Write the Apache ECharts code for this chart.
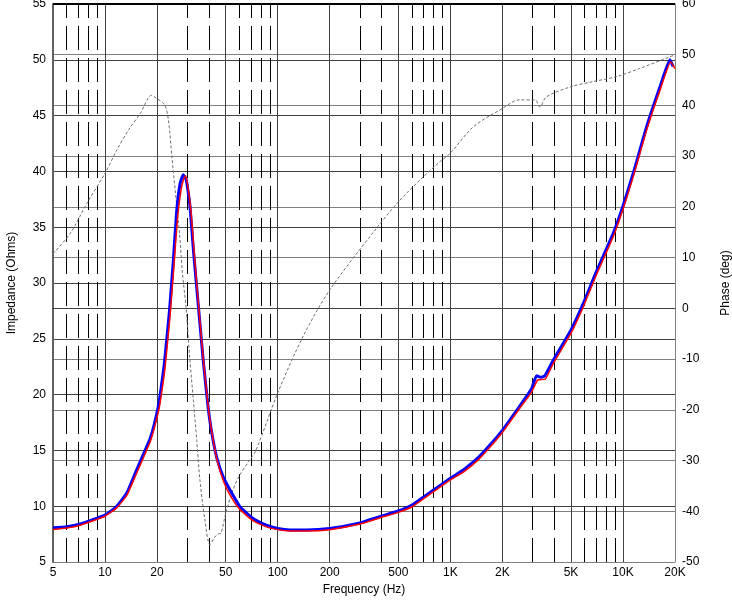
<!DOCTYPE html>
<html>
<head>
<meta charset="utf-8">
<script src="https://cdn.jsdelivr.net/npm/echarts@6/dist/echarts.min.js"></script>
<style>
html,body{margin:0;padding:0;background:#fff;}
#chart{width:732px;height:601px;}
</style>
</head>
<body>
<div id="chart"></div>
<script>
// ---- data ----
const tickFreqs = [5,10,20,50,100,200,500,1000,2000,5000,10000,20000];
const tickLabels = ['5','10','20','50','100','200','500','1K','2K','5K','10K','20K'];
const solidFreqs = [10,20,50,100,200,500,1000,2000,5000,10000];
const dashedFreqs = [6,7,8,9,30,40,60,70,80,90,300,400,600,700,800,900,3000,4000,6000,7000,8000,9000];

const blueFreq = [5,6,7.2,8.9,10,11.7,13.4,15.1,17.4,18.2,19.2,20.4,21.1,22,22.8,23.6,24.9,26,27.2,28.4,29.5,30.3,31.1,32.5,34.7,37.1,39.6,41.5,44.3,48.4,53,60.5,72,86,100,118,147,200,300,390,500,600,800,1000,1200,1450,1700,2000,2530,2950,3160,3350,3530,3950,5000,5900,7000,8800,10000,11500,13700,16400,18700,19500];
const blueImp = [8.07,8.16,8.4,8.9,9.2,10.0,11.2,13.1,15.3,16.0,17.2,19.0,20.5,22.6,25.0,27.4,32.1,36.4,38.9,39.7,39.3,38.2,36.8,33.0,28.0,23.0,18.8,16.6,14.4,12.6,11.45,9.95,8.9,8.3,8.0,7.87,7.87,8.0,8.5,9.06,9.57,10.1,11.45,12.5,13.3,14.35,15.5,16.8,19.0,20.5,21.7,21.55,21.7,23.1,25.8,28.2,31.0,34.5,36.9,39.9,44.0,47.6,50.0,49.4];

const redFreq = [5,6,7.2,8.9,10,11.7,13.4,15.1,17.4,18.3,19.3,20.6,21.3,22.2,23,23.8,25.1,26.3,27.6,28.7,29.3,30.1,31.5,32.9,35,37.4,39.9,41.8,44.6,48.7,53,60.5,72,86,100,118,147,200,300,390,500,600,800,1000,1200,1450,1700,2000,2530,2950,3200,3550,3950,5000,5900,7000,8800,10000,11500,13700,16400,18900,20000];
const redImp = [7.92,8.05,8.3,8.8,9.1,9.85,11.0,12.8,15.0,15.8,17.0,18.8,20.2,22.2,24.6,27.0,31.6,35.8,38.4,39.4,39.6,38.8,36.4,32.6,27.6,22.6,18.5,16.4,14.1,12.2,11.0,9.7,8.7,8.15,7.9,7.78,7.78,7.9,8.4,8.95,9.45,9.95,11.3,12.35,13.1,14.15,15.3,16.6,18.8,20.2,21.3,21.4,22.8,25.5,27.9,30.7,34.2,36.6,39.6,43.7,47.3,49.8,49.2];

const phaseFreq = [5,6.3,7.85,10,11.7,13.7,16,18.6,19.9,22.2,23.3,24.4,25.5,27,28.1,29.5,31,32.5,34,35.5,38,40.5,43,45,47,50,55,60,67,75,100,140,200,360,500,700,870,1000,1360,2000,2500,3100,3300,3600,5000,6700,9200,12500,18700,20000];
const phaseDeg = [10.8,14.8,20.7,26.6,31.2,35.2,38.4,42.0,41.4,40.1,37.1,29.9,23.3,14.8,6.9,0,-10,-18.1,-26,-34,-42,-46.6,-45.2,-44.5,-44.3,-40.4,-35.8,-33,-30.5,-27.9,-16.7,-5.6,3.6,15.1,21,26,28.9,30.6,35.8,39.4,41.1,41.1,39.7,41.7,43.7,44.7,45.7,47.3,49.6,50.0];

const pairs = (xs, ys) => xs.map((x, i) => [x, ys[i]]);

const FONT = 'Liberation Sans, Arial, sans-serif';

const markData = [];
solidFreqs.forEach(f => markData.push({xAxis: f, lineStyle: {color: '#404040', width: 1, type: 'solid'}, label: {show: false}}));
dashedFreqs.forEach(f => markData.push({xAxis: f, lineStyle: {color: '#000', width: 1, type: [24, 8]}, label: {show: false}}));
tickFreqs.forEach((f, i) => markData.push({
  xAxis: f,
  lineStyle: {color: 'rgba(0,0,0,0)', width: 1},
  label: {show: true, position: 'start', distance: 5, formatter: tickLabels[i], color: '#000', fontSize: 12, fontFamily: FONT}
}));
markData.push({yAxis: 55, lineStyle: {color: '#000', width: 2, type: 'solid'}, label: {show: false}});

const chart = echarts.init(document.getElementById('chart'), null, {renderer: 'canvas'});
chart.setOption({
  animation: false,
  backgroundColor: '#fff',
  grid: {left: 53, right: 57, top: 4, bottom: 39, show: false, containLabel: false, outerBoundsMode: 'none'},
  xAxis: {
    type: 'log', logBase: 10, min: 5, max: 20000,
    name: 'Frequency (Hz)', nameLocation: 'middle', nameGap: 22,
    nameTextStyle: {color: '#000', fontSize: 12, fontFamily: FONT},
    axisLine: {show: true, lineStyle: {color: '#404040', width: 1}},
    axisTick: {show: false}, axisLabel: {show: false},
    splitLine: {show: false}, minorSplitLine: {show: false}
  },
  yAxis: [{
    type: 'value', min: 5, max: 55, interval: 5, position: 'left',
    name: 'Impedance (Ohms)', nameLocation: 'middle', nameGap: 35, nameRotate: 90,
    nameTextStyle: {color: '#000', fontSize: 12, fontFamily: FONT},
    axisLine: {show: true, lineStyle: {color: '#606060', width: 2}},
    axisTick: {show: false},
    axisLabel: {color: '#000', fontSize: 12, fontFamily: FONT, margin: 7},
    splitLine: {show: true, lineStyle: {color: '#404040', width: 1}}
  }, {
    type: 'value', min: -50, max: 60, interval: 10, position: 'right',
    name: 'Phase (deg)', nameLocation: 'middle', nameGap: 45, nameRotate: 90,
    nameTextStyle: {color: '#000', fontSize: 12, fontFamily: FONT},
    axisLine: {show: true, lineStyle: {color: '#808080', width: 1}},
    axisTick: {show: false},
    axisLabel: {color: '#000', fontSize: 12, fontFamily: FONT, margin: 7},
    splitLine: {show: true, lineStyle: {color: '#808080', width: 1}}
  }],
  series: [{
    name: 'grid', type: 'line', data: [[5, 5]], yAxisIndex: 0, symbol: 'none',
    lineStyle: {opacity: 0}, silent: true, z: 1,
    markLine: {silent: true, symbol: ['none', 'none'], z: 1, animation: false, data: markData}
  }, {
    name: 'Phase', type: 'line', yAxisIndex: 1, data: pairs(phaseFreq, phaseDeg),
    symbol: 'none', smooth: 0.3, z: 3,
    lineStyle: {color: '#707070', width: 1, type: [3, 2]}
  }, {
    name: 'Impedance B', type: 'line', yAxisIndex: 0, data: pairs(blueFreq, blueImp),
    symbol: 'none', smooth: 0.15, z: 4,
    lineStyle: {color: '#0000ff', width: 3}
  }, {
    name: 'Impedance A', type: 'line', yAxisIndex: 0, data: pairs(redFreq, redImp),
    symbol: 'none', smooth: 0.15, z: 5,
    lineStyle: {color: '#ff0000', width: 1.5}
  }]
});
</script>
</body>
</html>
